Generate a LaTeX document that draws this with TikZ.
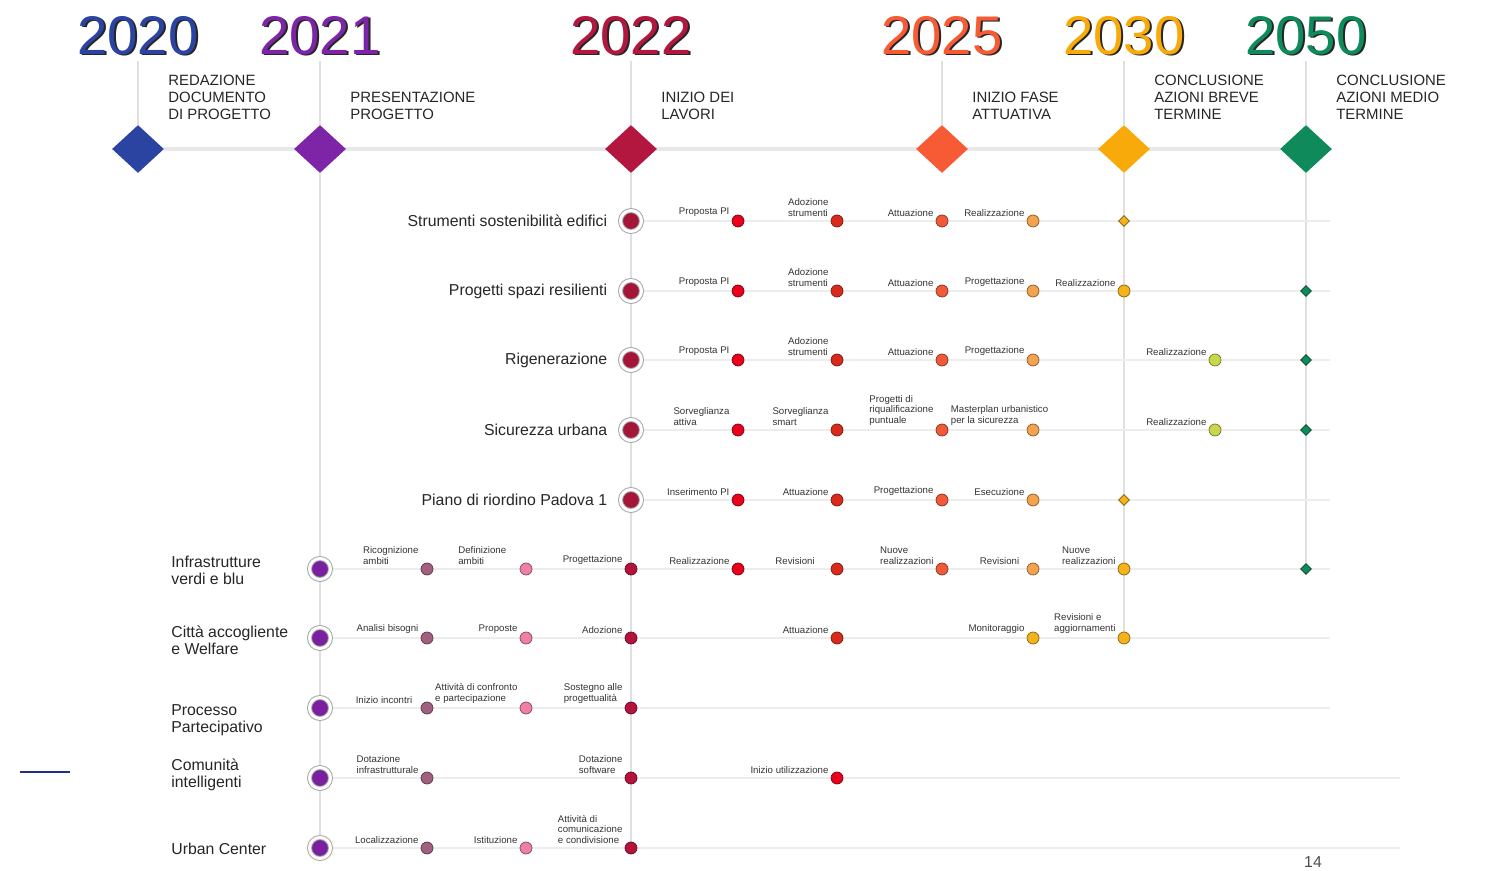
\documentclass[tikz,border=0pt]{standalone}
\usepackage{fontspec}
\setmainfont{Liberation Sans}
\usepackage{xcolor}
\usetikzlibrary{shapes.geometric, positioning, backgrounds}

\definecolor{yBlue}{HTML}{2B44A2}
\definecolor{yPurple}{HTML}{7E24A6}
\definecolor{yCrimson}{HTML}{B3173F}
\definecolor{yOrange}{HTML}{F75B35}
\definecolor{yAmber}{HTML}{F8AA0A}
\definecolor{yGreen}{HTML}{0F8A5A}
\definecolor{cMauve}{HTML}{A0607E}
\definecolor{cPink}{HTML}{F07FA5}
\definecolor{cCrim}{HTML}{B5123E}
\definecolor{cRed}{HTML}{E8001C}
\definecolor{cRedTwo}{HTML}{D92A1C}
\definecolor{cOrRed}{HTML}{F05A3A}
\definecolor{cLtOr}{HTML}{F4A24E}
\definecolor{cAmber}{HTML}{F5B21A}
\definecolor{cLime}{HTML}{C9D84A}
\definecolor{rowCrim}{HTML}{A51537}
\definecolor{rowPurple}{HTML}{7A1FA0}
\definecolor{navyline}{HTML}{1F2F8A}

\tikzset{
  yearlbl/.style={
    font=\fontsize{31}{31}\selectfont, inner sep=0pt
  },
  yearshadow/.style={
    font=\fontsize{31}{31}\selectfont, inner sep=0pt, text=black!85
  },
  milestone/.style={
    diamond, inner sep=0pt, minimum width=1.04cm,
    minimum height=0.96cm, fill=#1
  },
  phaselbl/.style={
    font=\fontsize{8.5}{9.7}\selectfont, align=left,
    inner sep=0pt, text=black!85, anchor=south west
  },
  rowtitle/.style={
    font=\fontsize{9}{9.7}\selectfont, align=left,
    inner sep=0pt, text=black!85
  },
  rowdot/.style={
    circle, inner sep=0pt, minimum size=0.42cm, fill=#1,
    draw=gray!70, double=white, double distance=0.06cm, line width=0.55pt
  },
  stepdot/.style={
    circle, inner sep=0pt, minimum size=0.24cm, fill=#1,
    draw=#1!55!black, line width=0.4pt
  },
  enddiamond/.style={
    diamond, inner sep=0pt, minimum size=0.22cm, fill=#1,
    draw=#1!50!black, line width=0.4pt
  },
  steplbl/.style={
    font=\fontsize{5.5}{5.8}\selectfont, align=left,
    inner sep=0pt, text=black!80
  },
  timeline/.style={draw=black!9, line width=2pt},
  gridline/.style={draw=black!12, line width=0.9pt},
  rowline/.style={draw=black!7, line width=0.6pt},
}

\begin{document}
\begin{tikzpicture}[x=0.02cm, y=-0.02cm, node distance=0cm and 0.075cm]
  \useasboundingbox (0,0) rectangle (1485,871);

  % ── Years ──
  \node[yearshadow] (y2020s) at (140,37) {2020};
  \node[yearlbl, text=yBlue] (y2020) at (138,36) {2020};
  \node[yearshadow] (y2021s) at (322,37) {2021};
  \node[yearlbl, text=yPurple] (y2021) at (320,36) {2021};
  \node[yearshadow] (y2022s) at (633,37) {2022};
  \node[yearlbl, text=yCrimson] (y2022) at (631,36) {2022};
  \node[yearshadow] (y2025s) at (944,37) {2025};
  \node[yearlbl, text=yOrange] (y2025) at (942,36) {2025};
  \node[yearshadow] (y2030s) at (1126,37) {2030};
  \node[yearlbl, text=yAmber] (y2030) at (1124,36) {2030};
  \node[yearshadow] (y2050s) at (1308,37) {2050};
  \node[yearlbl, text=yGreen] (y2050) at (1306,36) {2050};

  % ── Milestones ──
  \node[milestone=yBlue] (m2020) at (138,149) {};
  \node[milestone=yPurple] (m2021) at (320,149) {};
  \node[milestone=yCrimson] (m2022) at (631,149) {};
  \node[milestone=yOrange] (m2025) at (942,149) {};
  \node[milestone=yAmber] (m2030) at (1124,149) {};
  \node[milestone=yGreen] (m2050) at (1306,149) {};

  \node[phaselbl] (ph2020) at (168,120) {REDAZIONE\\DOCUMENTO\\DI PROGETTO};
  \node[phaselbl] (ph2021) at (350,120) {PRESENTAZIONE\\PROGETTO};
  \node[phaselbl] (ph2022) at (661,120) {INIZIO DEI\\LAVORI};
  \node[phaselbl] (ph2025) at (972,120) {INIZIO FASE\\ATTUATIVA};
  \node[phaselbl] (ph2030) at (1154,120) {CONCLUSIONE\\AZIONI BREVE\\TERMINE};
  \node[phaselbl] (ph2050) at (1336,120) {CONCLUSIONE\\AZIONI MEDIO\\TERMINE};

  % ── Row 1: Strumenti sostenibilità edifici ──
  \node[rowdot=rowCrim] (s1) at (631,221) {};
  \node[rowtitle, left=0.25cm of s1] (title1) {Strumenti sostenibilità edifici};
  \node[stepdot=cRed] (p1a) at (738,221) {};
  \node[steplbl, above left=of p1a] (t1a) {Proposta PI};
  \node[stepdot=cRedTwo] (p1b) at (837,221) {};
  \node[steplbl, above left=of p1b] (t1b) {Adozione\\strumenti};
  \node[stepdot=cOrRed] (p1c) at (942,221) {};
  \node[steplbl, above left=of p1c] (t1c) {Attuazione};
  \node[stepdot=cLtOr] (p1d) at (1033,221) {};
  \node[steplbl, above left=of p1d] (t1d) {Realizzazione};
  \node[enddiamond=cAmber] (p1e) at (1124,221) {};

  % ── Row 2: Progetti spazi resilienti ──
  \node[rowdot=rowCrim] (s2) at (631,291) {};
  \node[rowtitle, left=0.25cm of s2] (title2) {Progetti spazi resilienti};
  \node[stepdot=cRed] (p2a) at (738,291) {};
  \node[steplbl, above left=of p2a] (t2a) {Proposta PI};
  \node[stepdot=cRedTwo] (p2b) at (837,291) {};
  \node[steplbl, above left=of p2b] (t2b) {Adozione\\strumenti};
  \node[stepdot=cOrRed] (p2c) at (942,291) {};
  \node[steplbl, above left=of p2c] (t2c) {Attuazione};
  \node[stepdot=cLtOr] (p2d) at (1033,291) {};
  \node[steplbl, above left=of p2d] (t2d) {Progettazione};
  \node[stepdot=cAmber] (p2e) at (1124,291) {};
  \node[steplbl, above left=of p2e] (t2e) {Realizzazione};
  \node[enddiamond=yGreen] (p2f) at (1306,291) {};

  % ── Row 3: Rigenerazione ──
  \node[rowdot=rowCrim] (s3) at (631,360) {};
  \node[rowtitle, left=0.25cm of s3] (title3) {Rigenerazione};
  \node[stepdot=cRed] (p3a) at (738,360) {};
  \node[steplbl, above left=of p3a] (t3a) {Proposta PI};
  \node[stepdot=cRedTwo] (p3b) at (837,360) {};
  \node[steplbl, above left=of p3b] (t3b) {Adozione\\strumenti};
  \node[stepdot=cOrRed] (p3c) at (942,360) {};
  \node[steplbl, above left=of p3c] (t3c) {Attuazione};
  \node[stepdot=cLtOr] (p3d) at (1033,360) {};
  \node[steplbl, above left=of p3d] (t3d) {Progettazione};
  \node[stepdot=cLime] (p3e) at (1215,360) {};
  \node[steplbl, above left=of p3e] (t3e) {Realizzazione};
  \node[enddiamond=yGreen] (p3f) at (1306,360) {};

  % ── Row 4: Sicurezza urbana ──
  \node[rowdot=rowCrim] (s4) at (631,430) {};
  \node[rowtitle, left=0.25cm of s4] (title4) {Sicurezza urbana};
  \node[stepdot=cRed] (p4a) at (738,430) {};
  \node[steplbl, above left=of p4a] (t4a) {Sorveglianza\\attiva};
  \node[stepdot=cRedTwo] (p4b) at (837,430) {};
  \node[steplbl, above left=of p4b] (t4b) {Sorveglianza\\smart};
  \node[stepdot=cOrRed] (p4c) at (942,430) {};
  \node[steplbl, above left=of p4c] (t4c) {Progetti di\\riqualificazione\\puntuale};
  \node[stepdot=cLtOr] (p4d) at (1033,430) {};
  \node[steplbl, above left=0cm and -0.4cm of p4d] (t4d) {Masterplan urbanistico\\per la sicurezza};
  \node[stepdot=cLime] (p4e) at (1215,430) {};
  \node[steplbl, above left=of p4e] (t4e) {Realizzazione};
  \node[enddiamond=yGreen] (p4f) at (1306,430) {};

  % ── Row 5: Piano di riordino Padova 1 ──
  \node[rowdot=rowCrim] (s5) at (631,500) {};
  \node[rowtitle, left=0.25cm of s5] (title5) {Piano di riordino Padova 1};
  \node[stepdot=cRed] (p5a) at (738,500) {};
  \node[steplbl, above left=of p5a] (t5a) {Inserimento PI};
  \node[stepdot=cRedTwo] (p5b) at (837,500) {};
  \node[steplbl, above left=of p5b] (t5b) {Attuazione};
  \node[stepdot=cOrRed] (p5c) at (942,500) {};
  \node[steplbl, above left=of p5c] (t5c) {Progettazione};
  \node[stepdot=cLtOr] (p5d) at (1033,500) {};
  \node[steplbl, above left=of p5d] (t5d) {Esecuzione};
  \node[enddiamond=cAmber] (p5e) at (1124,500) {};

  % ── Row 6: Infrastrutture verdi e blu ──
  \node[rowdot=rowPurple] (s6) at (320,569) {};
  \node[rowtitle, anchor=west] (title6) at (171,570) {Infrastrutture\\verdi e blu};
  \node[stepdot=cMauve] (p6a) at (427,569) {};
  \node[steplbl, above left=of p6a] (t6a) {Ricognizione\\ambiti};
  \node[stepdot=cPink] (p6b) at (526,569) {};
  \node[steplbl, above left=0cm and 0.3cm of p6b] (t6b) {Definizione\\ambiti};
  \node[stepdot=cCrim] (p6c) at (631,569) {};
  \node[steplbl, above left=of p6c] (t6c) {Progettazione};
  \node[stepdot=cRed] (p6d) at (738,569) {};
  \node[steplbl, above left=of p6d] (t6d) {Realizzazione};
  \node[stepdot=cRedTwo] (p6e) at (837,569) {};
  \node[steplbl, above left=0cm and 0.35cm of p6e] (t6e) {Revisioni};
  \node[stepdot=cOrRed] (p6f) at (942,569) {};
  \node[steplbl, above left=of p6f] (t6f) {Nuove\\realizzazioni};
  \node[stepdot=cLtOr] (p6g) at (1033,569) {};
  \node[steplbl, above left=0cm and 0.18cm of p6g] (t6g) {Revisioni};
  \node[stepdot=cAmber] (p6h) at (1124,569) {};
  \node[steplbl, above left=of p6h] (t6h) {Nuove\\realizzazioni};
  \node[enddiamond=yGreen] (p6i) at (1306,569) {};

  % ── Row 7: Città accogliente e Welfare ──
  \node[rowdot=rowPurple] (s7) at (320,638) {};
  \node[rowtitle, anchor=west] (title7) at (171,640) {Città accogliente\\e Welfare};
  \node[stepdot=cMauve] (p7a) at (427,638) {};
  \node[steplbl, above left=of p7a] (t7a) {Analisi bisogni};
  \node[stepdot=cPink] (p7b) at (526,638) {};
  \node[steplbl, above left=of p7b] (t7b) {Proposte};
  \node[stepdot=cCrim] (p7c) at (631,638) {};
  \node[steplbl, above left=of p7c] (t7c) {Adozione};
  \node[stepdot=cRedTwo] (p7d) at (837,638) {};
  \node[steplbl, above left=of p7d] (t7d) {Attuazione};
  \node[stepdot=cAmber] (p7e) at (1033,638) {};
  \node[steplbl, above left=of p7e] (t7e) {Monitoraggio};
  \node[stepdot=cAmber] (p7f) at (1124,638) {};
  \node[steplbl, above left=of p7f] (t7f) {Revisioni e\\aggiornamenti};

  % ── Row 8: Processo Partecipativo ──
  \node[rowdot=rowPurple] (s8) at (320,708) {};
  \node[rowtitle, anchor=west] (title8) at (171,720) {Processo\\Partecipativo};
  \node[stepdot=cMauve] (p8a) at (427,708) {};
  \node[steplbl, above left=0cm and 0.2cm of p8a] (t8a) {Inizio incontri};
  \node[stepdot=cPink] (p8b) at (526,708) {};
  \node[steplbl, above left=of p8b] (t8b) {Attività di confronto\\e partecipazione};
  \node[stepdot=cCrim] (p8c) at (631,708) {};
  \node[steplbl, above left=of p8c] (t8c) {Sostegno alle\\progettualità};

  % ── Row 9: Comunità intelligenti ──
  \node[rowdot=rowPurple] (s9) at (320,778) {};
  \node[rowtitle, anchor=west] (title9) at (171,775) {Comunità\\intelligenti};
  \node[stepdot=cMauve] (p9a) at (427,778) {};
  \node[steplbl, above left=of p9a] (t9a) {Dotazione\\infrastrutturale};
  \node[stepdot=cCrim] (p9b) at (631,778) {};
  \node[steplbl, above left=of p9b] (t9b) {Dotazione\\software};
  \node[stepdot=cRed] (p9c) at (837,778) {};
  \node[steplbl, above left=of p9c] (t9c) {Inizio utilizzazione};

  % ── Row 10: Urban Center ──
  \node[rowdot=rowPurple] (s10) at (320,848) {};
  \node[rowtitle, anchor=west] (title10) at (171,849) {Urban Center};
  \node[stepdot=cMauve] (p10a) at (427,848) {};
  \node[steplbl, above left=of p10a] (t10a) {Localizzazione};
  \node[stepdot=cPink] (p10b) at (526,848) {};
  \node[steplbl, above left=of p10b] (t10b) {Istituzione};
  \node[stepdot=cCrim] (p10c) at (631,848) {};
  \node[steplbl, above left=of p10c] (t10c) {Attività di\\comunicazione\\e condivisione};

  % ── Row ends ──
  \coordinate (e1) at (1330,221);
  \coordinate (e2) at (1330,291);
  \coordinate (e3) at (1330,360);
  \coordinate (e4) at (1330,430);
  \coordinate (e5) at (1330,500);
  \coordinate (e6) at (1330,569);
  \coordinate (e7) at (1330,638);
  \coordinate (e8) at (1330,708);
  \coordinate (e9) at (1400,778);
  \coordinate (e10) at (1400,848);

  % ── Side marks ──
  \coordinate (bl1) at (20,772);
  \coordinate (bl2) at (70,772);
  \draw[navyline, line width=1.2pt] (bl1) -- (bl2);
  \node[font=\fontsize{9}{9}\selectfont, text=black!70, anchor=north, inner sep=0pt] (pg) at (1313,856) {14};

  % ── Lines behind ──
  \begin{scope}[on background layer]
    \draw[timeline] (m2020) -- (m2050);
    \draw[gridline, shorten <=0.1cm] (y2020) -- (m2020);
    \draw[gridline, shorten <=0.1cm] (y2021) -- (m2021);
    \draw[gridline, shorten <=0.1cm] (y2022) -- (m2022);
    \draw[gridline, shorten <=0.1cm] (y2025) -- (m2025);
    \draw[gridline, shorten <=0.1cm] (y2030) -- (m2030);
    \draw[gridline, shorten <=0.1cm] (y2050) -- (m2050);
    \draw[gridline] (m2021) -- (s10);
    \draw[gridline, shorten >=-0.2cm] (m2022) -- (p10c);
    \draw[gridline] (m2030) -- (p7f);
    \draw[gridline] (m2050) -- (p6i);
    \draw[rowline] (s1) -- (e1);
    \draw[rowline] (s2) -- (e2);
    \draw[rowline] (s3) -- (e3);
    \draw[rowline] (s4) -- (e4);
    \draw[rowline] (s5) -- (e5);
    \draw[rowline] (s6) -- (e6);
    \draw[rowline] (s7) -- (e7);
    \draw[rowline] (s8) -- (e8);
    \draw[rowline] (s9) -- (e9);
    \draw[rowline] (s10) -- (e10);
  \end{scope}
\end{tikzpicture}
\end{document}
